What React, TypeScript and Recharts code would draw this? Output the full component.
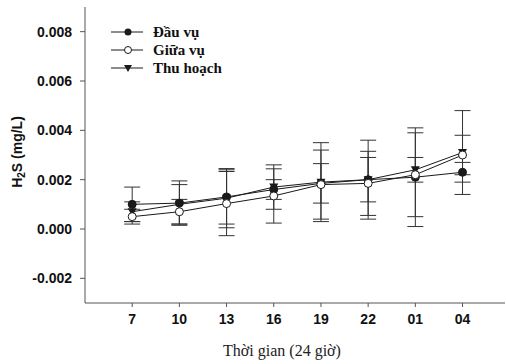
import { LineChart, Line, XAxis, YAxis, ErrorBar } from "recharts";

const hours = ["7", "10", "13", "16", "19", "22", "01", "04"];
const dauVu = [0.001, 0.00105, 0.0013, 0.0016, 0.00185, 0.002, 0.0021, 0.0023];
const dauVuErr = [0.0007, 0.0009, 0.0011, 0.0004, 0.0008, 0.0016, 0.002, 0.0004];
const giuaVu = [0.0005, 0.0007, 0.00103, 0.00134, 0.0018, 0.00185, 0.0022, 0.003];
const giuaVuErr = [0.0003, 0.0005, 0.0013, 0.0011, 0.0014, 0.0013, 0.0017, 0.0008];
const thuHoach = [0.0007, 0.001, 0.00125, 0.0017, 0.0019, 0.002, 0.0024, 0.0031];
const thuHoachErr = [0.0004, 0.0008, 0.0012, 0.0009, 0.0016, 0.0009, 0.0005, 0.0017];
const yTicks = [-0.002, 0, 0.002, 0.004, 0.006, 0.008];

const data = hours.map((h, i) => ({
  i,
  h,
  dau: dauVu[i],
  dauErr: dauVuErr[i],
  giua: giuaVu[i],
  giuaErr: giuaVuErr[i],
  thu: thuHoach[i],
  thuErr: thuHoachErr[i],
}));

const INK = "#1a1a1a";

function Tri(props: any) {
  const { cx, cy } = props;
  if (cx == null || cy == null) return null;
  return <path d={`M${cx - 4.5},${cy - 3.5} L${cx + 4.5},${cy - 3.5} L${cx},${cy + 4.5} Z`} fill={INK} />;
}

const legendItems = [
  { name: "Đầu vụ", kind: "filled" },
  { name: "Giữa vụ", kind: "open" },
  { name: "Thu hoạch", kind: "tri" },
];

function LegendBox() {
  return (
    <div
      style={{
        position: "absolute",
        left: 108,
        top: 23,
        fontFamily: "'Liberation Serif', serif",
        fontWeight: "bold",
        fontSize: 15,
        color: "#111",
      }}
    >
      {legendItems.map((it) => (
        <div key={it.name} style={{ display: "flex", alignItems: "center", height: 18 }}>
          <svg width={40} height={12}>
            <line x1={3} y1={6} x2={35} y2={6} stroke={INK} strokeWidth={1} />
            {it.kind === "filled" && <circle cx={20} cy={6} r={3.5} fill={INK} />}
            {it.kind === "open" && <circle cx={20} cy={6} r={3.5} fill="#fff" stroke={INK} />}
            {it.kind === "tri" && <path d="M16,3 L24,3 L20,10 Z" fill={INK} />}
          </svg>
          <span style={{ marginLeft: 5 }}>{it.name}</span>
        </div>
      ))}
    </div>
  );
}

function YLabel() {
  const cx = 18;
  const cy = 152;
  return (
    <text
      x={cx}
      y={cy}
      transform={`rotate(-90, ${cx}, ${cy})`}
      textAnchor="middle"
      dominantBaseline="middle"
      fontFamily="'Liberation Sans', Arial, sans-serif"
      fontWeight="bold"
      fontSize={14}
      fill="#111"
    >
      H<tspan fontSize={10} dy={4}>2</tspan>
      <tspan dy={-4}>S (mg/L)</tspan>
    </text>
  );
}

function XLabel() {
  return (
    <text
      x={282}
      y={352}
      textAnchor="middle"
      dominantBaseline="middle"
      fontFamily="'Liberation Serif', serif"
      fontSize={16}
      fill="#222"
    >
      Thời gian (24 giờ)
    </text>
  );
}

const tickStyle = { fontFamily: "'Liberation Sans', Arial, sans-serif", fontWeight: "bold", fontSize: 14, fill: "#111" };

export default function App() {
  return (
    <div style={{ position: "absolute", left: 0, top: 0, width: 506, height: 364, background: "#fff" }}>
      <LineChart width={506} height={364} data={data} margin={{ top: 7, right: 1, left: 0, bottom: 26 }}>
        <XAxis
          dataKey="i"
          type="number"
          domain={[-1, 7.9]}
          ticks={[0, 1, 2, 3, 4, 5, 6, 7]}
          tickFormatter={(v: number) => hours[v]}
          stroke="#555"
          tickSize={4}
          tickMargin={7}
          tick={tickStyle}
          height={35}
          label={<XLabel />}
        />
        <YAxis
          type="number"
          domain={[-0.003, 0.009]}
          ticks={yTicks}
          tickFormatter={(v: number) => v.toFixed(3)}
          stroke="#555"
          tickSize={5}
          tickMargin={8}
          tick={tickStyle}
          width={85}
          label={<YLabel />}
        />
        <Line
          dataKey="dau"
          name="Đầu vụ"
          stroke={INK}
          strokeWidth={1}
          isAnimationActive={false}
          dot={{ r: 4, fill: INK, stroke: INK, strokeWidth: 1 }}
        >
          <ErrorBar dataKey="dauErr" width={8} stroke="#333" strokeWidth={1} direction="y" />
        </Line>
        <Line
          dataKey="thu"
          name="Thu hoạch"
          stroke={INK}
          strokeWidth={1}
          isAnimationActive={false}
          dot={<Tri />}
        >
          <ErrorBar dataKey="thuErr" width={8} stroke="#333" strokeWidth={1} direction="y" />
        </Line>
        <Line
          dataKey="giua"
          name="Giữa vụ"
          stroke={INK}
          strokeWidth={1}
          isAnimationActive={false}
          dot={{ r: 4, fill: "#fff", stroke: INK, strokeWidth: 1 }}
        >
          <ErrorBar dataKey="giuaErr" width={8} stroke="#333" strokeWidth={1} direction="y" />
        </Line>
      </LineChart>
      <LegendBox />
    </div>
  );
}
